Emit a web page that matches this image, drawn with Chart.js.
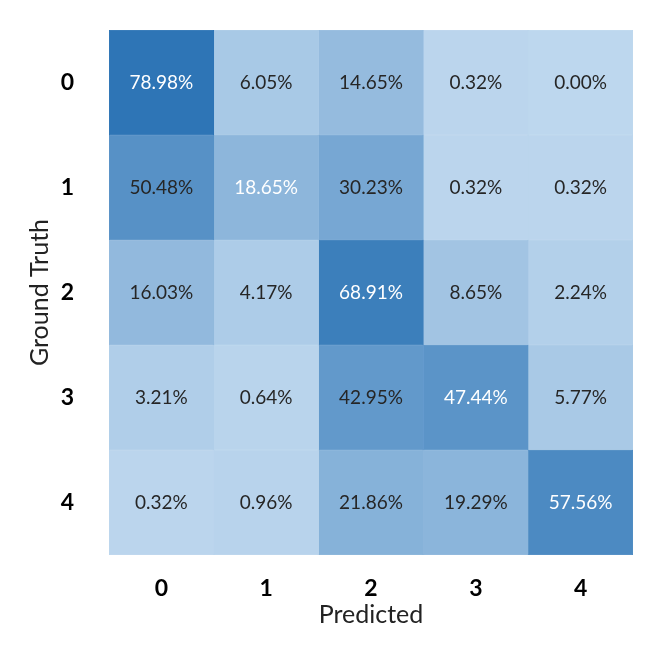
<!DOCTYPE html>
<html>
<head>
<meta charset="utf-8">
<script src="https://cdn.jsdelivr.net/npm/chart.js@4/dist/chart.umd.min.js"></script>
<style>
  html, body { margin: 0; padding: 0; background: #ffffff; }
  canvas { display: block; }
</style>
</head>
<body>
<canvas id="c" width="666" height="651"></canvas>
<script>
// Categories
const predictedLabels = ['0', '1', '2', '3', '4'];
const truthLabels = ['0', '1', '2', '3', '4'];

// Confusion matrix rows (ground truth), values in % per predicted class
const truth0 = [78.98, 6.05, 14.65, 0.32, 0.00];
const truth1 = [50.48, 18.65, 30.23, 0.32, 0.32];
const truth2 = [16.03, 4.17, 68.91, 8.65, 2.24];
const truth3 = [3.21, 0.64, 42.95, 47.44, 5.77];
const truth4 = [0.32, 0.96, 21.86, 19.29, 57.56];
const rows = [truth0, truth1, truth2, truth3, truth4];

const axisTitleX = 'Predicted';
const axisTitleY = 'Ground Truth';

// Colour scale: light blue (0) -> dark blue (max)
const lowRGB = [189, 215, 238];
const highRGB = [46, 117, 182];
const maxVal = Math.max(...rows.flat());
function cellColor(v) {
  const t = Math.pow(Math.max(0, Math.min(1, v / maxVal)), 0.75);
  const c = lowRGB.map((l, i) => Math.round(l + (highRGB[i] - l) * t));
  return `rgb(${c[0]},${c[1]},${c[2]})`;
}

const datasets = predictedLabels.map((p, col) => ({
  label: p,
  data: truthLabels.map(() => 1),
  values: rows.map(r => r[col]),
  backgroundColor: rows.map(r => cellColor(r[col])),
  borderColor: rows.map(r => cellColor(r[col])),
  borderWidth: 0.5,
  barPercentage: 1,
  categoryPercentage: 1,
  borderSkipped: false
}));

const FONT = "Lato, 'Open Sans', 'DejaVu Sans', sans-serif";

const cellLabels = {
  id: 'cellLabels',
  afterDatasetsDraw(chart) {
    const ctx = chart.ctx;
    ctx.save();
    ctx.font = `19px ${FONT}`;
    ctx.textAlign = 'center';
    ctx.textBaseline = 'middle';
    chart.data.datasets.forEach((ds, col) => {
      const meta = chart.getDatasetMeta(col);
      meta.data.forEach((el, row) => {
        const v = ds.values[row];
        const cx = (el.x + el.base) / 2;
        ctx.fillStyle = (row === col) ? '#ffffff' : '#262626';
        ctx.fillText(v.toFixed(2) + '%', cx, el.y);
      });
    });
    ctx.restore();
  }
};

new Chart(document.getElementById('c'), {
  type: 'bar',
  data: { labels: truthLabels, datasets },
  plugins: [cellLabels],
  options: {
    indexAxis: 'y',
    responsive: false,
    animation: false,
    events: [],
    layout: { padding: { top: 30, right: 33, left: 0, bottom: 0 } },
    plugins: { legend: { display: false }, tooltip: { enabled: false } },
    scales: {
      x: {
        type: 'linear',
        stacked: true,
        min: 0,
        max: predictedLabels.length,
        grid: { display: false, drawTicks: false },
        border: { display: false },
        afterBuildTicks: (axis) => {
          axis.ticks = predictedLabels.map((_, i) => ({ value: i + 0.5 }));
        },
        afterFit: (s) => { s.height = 96; s.paddingLeft = 0; s.paddingRight = 0; },
        ticks: {
          padding: 20,
          color: '#000000',
          font: { family: FONT, size: 23, weight: 'bold' },
          callback: (value) => predictedLabels[Math.floor(value)]
        },
        title: {
          display: true,
          text: axisTitleX,
          color: '#222222',
          font: { family: FONT, size: 25 },
          padding: { top: 0, bottom: 21 }
        }
      },
      y: {
        type: 'category',
        stacked: true,
        grid: { display: false, drawTicks: false },
        border: { display: false },
        afterFit: (s) => { s.width = 109; s.paddingTop = 0; s.paddingBottom = 0; },
        ticks: {
          padding: 35,
          color: '#000000',
          font: { family: FONT, size: 23, weight: 'bold' }
        },
        title: {
          display: true,
          text: axisTitleY,
          color: '#222222',
          font: { family: FONT, size: 25 },
          padding: { top: 25, bottom: 0 }
        }
      }
    }
  }
});
</script>
</body>
</html>
